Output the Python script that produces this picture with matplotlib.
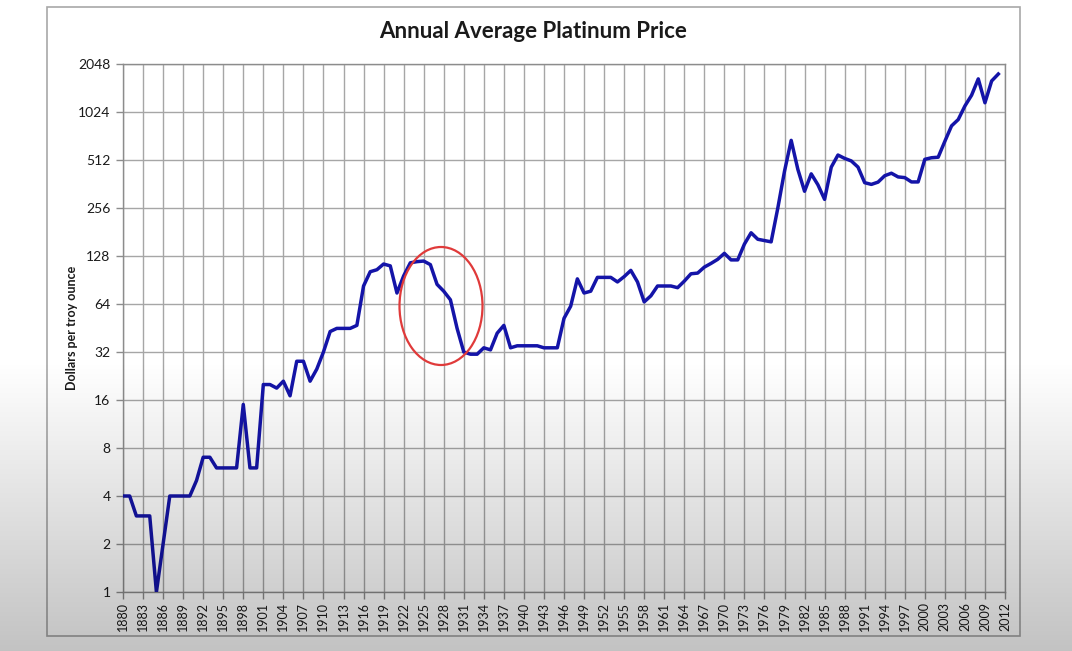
import numpy as np
import matplotlib
matplotlib.use('Agg')
import matplotlib.pyplot as plt
from matplotlib.patches import Ellipse, Rectangle

# Annual average platinum price, USD per troy ounce
years = list(range(1880, 2012))
prices = [
    4, 4, 3, 3, 3, 1, 2, 4, 4, 4,                          # 1880-1889
    4, 5, 7, 7, 6, 6, 6, 6, 15, 6,                         # 1890-1899
    6, 20, 20, 19, 21, 17, 28, 28, 21, 25,                 # 1900-1909
    32, 43, 45, 45, 45, 47, 83, 102, 105, 114,             # 1910-1919
    111, 75, 96, 116, 118, 119, 113, 85, 77, 68,           # 1920-1929
    45, 32, 31, 31, 34, 33, 42, 47, 34, 35,                # 1930-1939
    35, 35, 35, 34, 34, 34, 52, 62, 92, 75,                # 1940-1949
    77, 94, 94, 94, 88, 95, 104, 88, 66, 72,               # 1950-1959
    83, 83, 83, 81, 89, 99, 100, 109, 115, 122,            # 1960-1969
    133, 121, 121, 152, 179, 163, 160, 157, 256, 435,      # 1970-1979
    680, 447, 326, 419, 358, 290, 462, 550, 524, 505,      # 1980-1989
    462, 369, 360, 372, 408, 423, 401, 397, 373, 373,      # 1990-1999
    517, 529, 533, 671, 838, 918, 1117, 1305, 1652, 1170,  # 2000-2009
    1603, 1772,                                            # 2010-2011
]
x_ticks = list(range(1880, 2013, 3))
y_ticks = [1, 2, 4, 8, 16, 32, 64, 128, 256, 512, 1024, 2048]

plt.rcParams['font.family'] = ['Lato', 'DejaVu Sans']

W, H = 1072, 651
fig = plt.figure(figsize=(W / 100, H / 100), dpi=100)
fig.patch.set_facecolor('white')

# outer chart frame
fig.patches.append(Rectangle((47 / W, 1 - 636 / H), (1020 - 47) / W, (636 - 7) / H,
                             transform=fig.transFigure, facecolor='white',
                             edgecolor='#a8a8a8', linewidth=1.2, zorder=-1))

ax = fig.add_axes([123 / W, 1 - 592 / H, (1005 - 123) / W, (592 - 64) / H])
ax.plot(years, prices, color='#1414a8', linewidth=2.5, zorder=3)

ax.set_yscale('log', base=2)
ax.set_ylim(1, 2048)
ax.set_xlim(1880, 2012)
ax.set_yticks(y_ticks)
ax.set_yticklabels([str(v) for v in y_ticks])
ax.yaxis.set_minor_locator(matplotlib.ticker.NullLocator())
ax.set_xticks(x_ticks)
ax.set_xticklabels([str(v) for v in x_ticks], rotation=90)
ax.grid(True, color='#a6a6a6', linewidth=1.0)
ax.set_axisbelow(True)
for s in ax.spines.values():
    s.set_color('#8c8c8c')
    s.set_linewidth(1.0)
ax.tick_params(axis='both', colors='#8c8c8c', length=5, width=1.0,
               labelcolor='#1a1a1a')
ax.tick_params(axis='x', labelsize=9, pad=2)
ax.tick_params(axis='y', labelsize=10, pad=4)

ax.set_ylabel('Dollars per troy ounce', fontsize=9, fontweight='bold',
              color='#1a1a1a', labelpad=0)
fig.text(533 / W, 1 - 32 / H, 'Annual Average Platinum Price', ha='center',
         va='center', fontsize=16, fontweight='bold', color='#1a1a1a')

# red ellipse highlighting the 1920s crash
ax.add_patch(Ellipse(((441 - 123) / 882, (592 - 306) / 528), 83 / 882, 118 / 528,
                     transform=ax.transAxes, fill=False, edgecolor='#e03a3a',
                     linewidth=1.6, zorder=4))

# grey gradient from the video frame at the bottom
ov = fig.add_axes([0, 0, 1, 1], zorder=10)
ov.axis('off')
ov.patch.set_alpha(0)
rows = np.linspace(0, 1, H)
alpha = np.clip((rows - 360 / H) / (1 - 360 / H), 0, 1) * 0.24
grad = np.zeros((H, 1, 4))
grad[:, 0, 3] = alpha
ov.imshow(grad, aspect='auto', extent=[0, 1, 1, 0])
ov.set_xlim(0, 1)
ov.set_ylim(1, 0)

fig.savefig('out.png', dpi=100)
